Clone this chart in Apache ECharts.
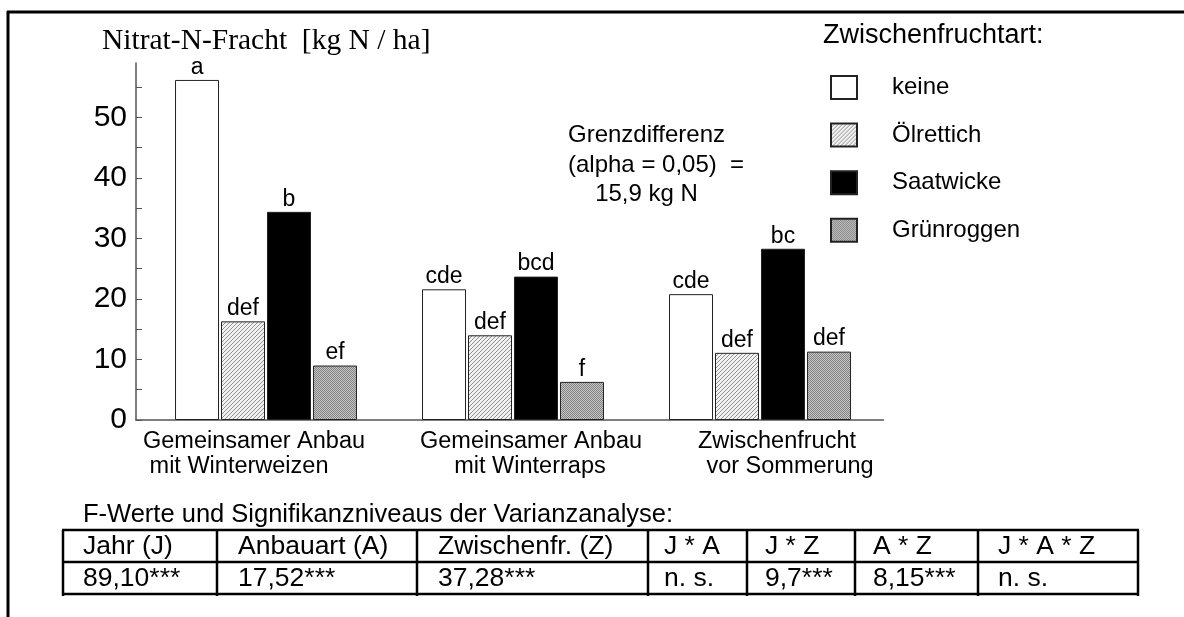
<!DOCTYPE html>
<html><head><meta charset="utf-8">
<script src="https://cdn.jsdelivr.net/npm/echarts@6/dist/echarts.min.js"></script>
<style>html,body{margin:0;padding:0;background:#fff}#c{width:1184px;height:617px}</style>
</head><body><div id="c"></div>
<script>
// ---- data ----
const categories = ['Gemeinsamer Anbau\nmit Winterweizen', 'Gemeinsamer Anbau\nmit Winterraps', 'Zwischenfrucht\nvor Sommerung'];
const seriesNames = ['keine', 'Ölrettich', 'Saatwicke', 'Grünroggen'];
const keine = [56.2, 21.6, 20.8];
const oelrettich = [16.3, 14.0, 11.1];
const saatwicke = [34.4, 23.7, 28.3];
const gruenroggen = [9.0, 6.3, 11.3];
const lettersKeine = ['a', 'cde', 'cde'];
const lettersOelrettich = ['def', 'def', 'def'];
const lettersSaatwicke = ['b', 'bcd', 'bc'];
const lettersGruenroggen = ['ef', 'f', 'def'];
const yTickValues = [0, 5, 10, 15, 20, 25, 30, 35, 40, 45, 50, 55];
const yLabelValues = [0, 10, 20, 30, 40, 50];
const titleText = 'Nitrat-N-Fracht  [kg N / ha]';
const legendTitle = 'Zwischenfruchtart:';
const gdLines = ['Grenzdifferenz', '(alpha = 0,05)  =', '15,9 kg N'];
const tableCaption = 'F-Werte und Signifikanzniveaus der Varianzanalyse:';
const tableHeaders = ['Jahr (J)', 'Anbauart (A)', 'Zwischenfr. (Z)', 'J * A', 'J * Z', 'A * Z', 'J * A * Z'];
const tableValues = ['89,10***', '17,52***', '37,28***', 'n. s.', '9,7***', '8,15***', 'n. s.'];

// ---- styling / layout ----
const FONT = 'Liberation Sans, Arial, sans-serif';
function hatchPattern() {
  const c = document.createElement('canvas'); c.width = 4; c.height = 4;
  const g = c.getContext('2d');
  g.fillStyle = '#f2f2f2'; g.fillRect(0, 0, 4, 4);
  g.fillStyle = '#8f8f8f';
  for (let i = 0; i < 4; i++) g.fillRect(3 - i, i, 1, 1);
  return c;
}
function dotPattern() {
  const c = document.createElement('canvas'); c.width = 2; c.height = 2;
  const g = c.getContext('2d');
  g.fillStyle = '#c6c6c6'; g.fillRect(0, 0, 2, 2);
  g.fillStyle = '#828282'; g.fillRect(0, 0, 1, 1); g.fillRect(1, 1, 1, 1);
  return c;
}
const fills = ['#ffffff', { image: hatchPattern(), repeat: 'repeat' }, '#000000', { image: dotPattern(), repeat: 'repeat' }];
const values = [keine, oelrettich, saatwicke, gruenroggen];
const letters = [lettersKeine, lettersOelrettich, lettersSaatwicke, lettersGruenroggen];

// per-line horizontal shifts of category labels (px)
const labelShift = [[-12, -27], [18, 17], [17, 30]];
const rich = {};
labelShift.forEach((ls, ci) => ls.forEach((s, li) => {
  rich['c' + ci + 'l' + li] = {
    fontSize: 23.5, fontFamily: FONT, color: '#000', lineHeight: 25,
    padding: s >= 0 ? [0, 0, 0, 2 * s] : [0, -2 * s, 0, 0]
  };
}));

const series = seriesNames.map((n, i) => ({
  name: n, type: 'bar', data: values[i], barWidth: 44, barGap: '4.5%',
  xAxisIndex: 0, yAxisIndex: 0,
  itemStyle: { color: fills[i], borderColor: '#222', borderWidth: 1 },
  label: {
    show: true, position: 'top', distance: 1, fontSize: 23, fontFamily: FONT, color: '#000',
    formatter: p => letters[i][p.dataIndex]
  }
}));

// table graphics
const colX = [63, 217, 417, 648, 747, 855, 978, 1138];
const rowY = [530, 562, 594];
const tableEls = [];
rowY.forEach(y => tableEls.push({ type: 'line', shape: { x1: colX[0] - 1, y1: y, x2: colX[7] + 1, y2: y }, style: { stroke: '#000', lineWidth: 2.5 } }));
colX.forEach(x => tableEls.push({ type: 'line', shape: { x1: x, y1: rowY[0], x2: x, y2: rowY[2] + 2 }, style: { stroke: '#000', lineWidth: 2.5 } }));
const pad = [20, 21, 21, 16, 18, 18, 20];
tableHeaders.forEach((t, i) => tableEls.push({ type: 'text', x: colX[i] + pad[i], y: (rowY[0] + rowY[1]) / 2 + 1, style: { text: t, font: '26.5px ' + FONT, fill: '#000', textVerticalAlign: 'middle' } }));
tableValues.forEach((t, i) => tableEls.push({ type: 'text', x: colX[i] + pad[i], y: (rowY[1] + rowY[2]) / 2 + 1, style: { text: t, font: '26.5px ' + FONT, fill: '#000', textVerticalAlign: 'middle' } }));

const chart = echarts.init(document.getElementById('c'), null, { renderer: 'canvas' });
chart.setOption({
  backgroundColor: '#fff',
  animation: false,
  grid: [
    { left: 142.5, width: 741, top: 63, height: 357 },
    { left: 136, width: 747.5, top: 63, height: 357 }
  ],
  legend: {
    orient: 'vertical', left: 830, top: 75, padding: 0, itemWidth: 26, itemHeight: 23, itemGap: 22.6,
    icon: 'rect', data: seriesNames,
    formatter: n => '{p|' + n + '}',
    textStyle: { rich: { p: { fontSize: 24, fontFamily: FONT, color: '#000', lineHeight: 25, padding: [0, 0, 0, 30] } } }
  },
  xAxis: [
    {
      type: 'category', data: categories, gridIndex: 0,
      axisLine: { show: false }, axisTick: { show: false },
      axisLabel: {
        margin: 9, interval: 0,
        formatter: (v, idx) => v.split('\n').map((l, li) => '{c' + idx + 'l' + li + '|' + l + '}').join('\n'),
        rich: rich
      }
    },
    {
      type: 'value', gridIndex: 1, min: 0, max: 1,
      axisLine: { show: true, onZero: false, lineStyle: { color: '#555', width: 1.5 } },
      axisTick: { show: false }, axisLabel: { show: false }, splitLine: { show: false }
    }
  ],
  yAxis: [
    {
      type: 'value', gridIndex: 0, min: 0, max: 59, interval: 5, offset: 6.5,
      axisLine: { show: true, lineStyle: { color: '#555', width: 1.5 } },
      axisTick: { show: true, inside: true, length: 6, customValues: yTickValues, lineStyle: { color: '#555' } },
      axisLabel: { customValues: yLabelValues, fontSize: 30, fontFamily: FONT, color: '#000', margin: 9 },
      splitLine: { show: false }
    },
    { type: 'value', gridIndex: 1, min: 0, max: 1, show: false }
  ],
  series: series,
  graphic: [
    { type: 'line', shape: { x1: 7, y1: 12, x2: 1184, y2: 12 }, style: { stroke: '#000', lineWidth: 3 } },
    { type: 'line', shape: { x1: 8, y1: 11, x2: 8, y2: 617 }, style: { stroke: '#000', lineWidth: 3 } },
    { type: 'text', x: 102, y: 41, style: { text: titleText, font: '29.5px Liberation Serif, Times New Roman, serif', fill: '#000', textVerticalAlign: 'middle' } },
    { type: 'text', x: 823, y: 36, style: { text: legendTitle, font: '27px ' + FONT, fill: '#000', textVerticalAlign: 'middle' } },
    { type: 'text', x: 646.5, y: 135, style: { text: gdLines[0], font: '24px ' + FONT, fill: '#000', textAlign: 'center', textVerticalAlign: 'middle' } },
    { type: 'text', x: 568, y: 165, style: { text: gdLines[1], font: '24px ' + FONT, fill: '#000', textAlign: 'left', textVerticalAlign: 'middle' } },
    { type: 'text', x: 646.5, y: 194, style: { text: gdLines[2], font: '24px ' + FONT, fill: '#000', textAlign: 'center', textVerticalAlign: 'middle' } },
    { type: 'text', x: 83, y: 515, style: { text: tableCaption, font: '25.5px ' + FONT, fill: '#000', textVerticalAlign: 'middle' } }
  ].concat(tableEls)
});
</script></body></html>
